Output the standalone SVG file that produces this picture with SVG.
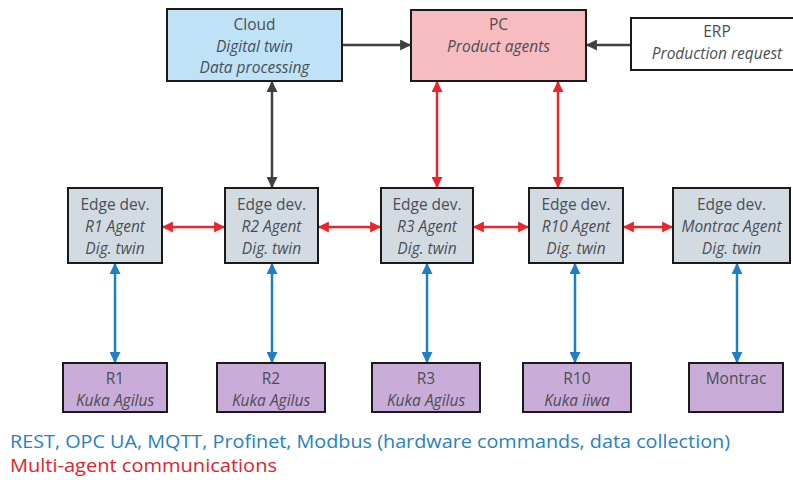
<svg xmlns="http://www.w3.org/2000/svg" width="793" height="480" viewBox="0 0 793 480">
<style>
.box{stroke:#1a1a1a;stroke-width:2}
.cloud{fill:#bfe2f6}.pc{fill:#f7bcc0}.erp{fill:#ffffff}.edge{fill:#d3dbe2}.rob{fill:#c9acd8}
text{font-family:"Open Sans","Liberation Sans",sans-serif;font-size:15.5px;fill:#4a4f55;text-anchor:middle}
.i{font-style:italic}
.k{stroke:#404040;stroke-width:2.5;fill:none}
.r{stroke:#e8262b;stroke-width:2.5;fill:none}
.b{stroke:#1f7fc4;stroke-width:2.5;fill:none}
.leg{font-family:"Open Sans","Liberation Sans",sans-serif;font-size:19px;text-anchor:start}
</style>
<defs>
<marker id="mk" viewBox="0 0 10 10" refX="9" refY="5" markerWidth="4.4" markerHeight="4.4" orient="auto-start-reverse"><path d="M0,0L10,5L0,10z" fill="#404040"/></marker>
<marker id="mr" viewBox="0 0 10 10" refX="9" refY="5" markerWidth="4.4" markerHeight="4.4" orient="auto-start-reverse"><path d="M0,0L10,5L0,10z" fill="#e8262b"/></marker>
<marker id="mb" viewBox="0 0 10 10" refX="9" refY="5" markerWidth="4.4" markerHeight="4.4" orient="auto-start-reverse"><path d="M0,0L10,5L0,10z" fill="#1f7fc4"/></marker>
</defs>
<rect width="793" height="480" fill="#ffffff"/>
<g id="connectors">
<line class="k" x1="342" y1="45" x2="410" y2="45" marker-end="url(#mk)"/>
<line class="k" x1="631" y1="45" x2="587" y2="45" marker-end="url(#mk)"/>
<line class="k" x1="272" y1="82" x2="272" y2="187" marker-start="url(#mk)" marker-end="url(#mk)"/>
<line class="r" x1="437" y1="82" x2="437" y2="187" marker-start="url(#mr)" marker-end="url(#mr)"/>
<line class="r" x1="558" y1="82" x2="558" y2="187" marker-start="url(#mr)" marker-end="url(#mr)"/>
<line class="r" x1="163" y1="227" x2="224" y2="227" marker-start="url(#mr)" marker-end="url(#mr)"/>
<line class="r" x1="319" y1="227" x2="380" y2="227" marker-start="url(#mr)" marker-end="url(#mr)"/>
<line class="r" x1="474" y1="227" x2="528" y2="227" marker-start="url(#mr)" marker-end="url(#mr)"/>
<line class="r" x1="624" y1="227" x2="672" y2="227" marker-start="url(#mr)" marker-end="url(#mr)"/>
<line class="b" x1="115" y1="264" x2="115" y2="362" marker-start="url(#mb)" marker-end="url(#mb)"/>
<line class="b" x1="272" y1="264" x2="272" y2="362" marker-start="url(#mb)" marker-end="url(#mb)"/>
<line class="b" x1="427" y1="264" x2="427" y2="362" marker-start="url(#mb)" marker-end="url(#mb)"/>
<line class="b" x1="575" y1="264" x2="575" y2="362" marker-start="url(#mb)" marker-end="url(#mb)"/>
<line class="b" x1="737" y1="264" x2="737" y2="362" marker-start="url(#mb)" marker-end="url(#mb)"/>
</g>
<g id="cloud"><rect class="box cloud" x="167" y="9" width="175" height="72"/>
<text x="254.5" y="30">Cloud</text><text class="i" x="254.5" y="52">Digital twin</text><text class="i" x="254.5" y="73">Data processing</text></g>
<g id="pc"><rect class="box pc" x="411" y="10" width="175" height="71"/>
<text x="498.5" y="30">PC</text><text class="i" x="498.5" y="52">Product agents</text></g>
<g id="erp"><rect class="box erp" x="631" y="18" width="170" height="52"/>
<text x="717" y="37">ERP</text><text class="i" x="717" y="59">Production request</text></g>
<g id="edge1"><rect class="box edge" x="68" y="188" width="94" height="75"/>
<text x="115" y="210">Edge dev.</text><text class="i" x="115" y="232">R1 Agent</text><text class="i" x="115" y="254">Dig. twin</text></g>
<g id="edge2"><rect class="box edge" x="225" y="188" width="93" height="75"/>
<text x="271.5" y="210">Edge dev.</text><text class="i" x="271.5" y="232">R2 Agent</text><text class="i" x="271.5" y="254">Dig. twin</text></g>
<g id="edge3"><rect class="box edge" x="381" y="188" width="92" height="75"/>
<text x="427" y="210">Edge dev.</text><text class="i" x="427" y="232">R3 Agent</text><text class="i" x="427" y="254">Dig. twin</text></g>
<g id="edge10"><rect class="box edge" x="529" y="188" width="94" height="75"/>
<text x="576" y="210">Edge dev.</text><text class="i" x="576" y="232">R10 Agent</text><text class="i" x="576" y="254">Dig. twin</text></g>
<g id="edgem"><rect class="box edge" x="673" y="188" width="117" height="75"/>
<text x="731.5" y="210">Edge dev.</text><text class="i" x="731.5" y="232">Montrac Agent</text><text class="i" x="731.5" y="254">Dig. twin</text></g>
<g id="r1"><rect class="box rob" x="63" y="363" width="104" height="49"/>
<text x="115" y="384">R1</text><text class="i" x="115" y="406">Kuka Agilus</text></g>
<g id="r2"><rect class="box rob" x="217" y="363" width="108" height="49"/>
<text x="271" y="384">R2</text><text class="i" x="271" y="406">Kuka Agilus</text></g>
<g id="r3"><rect class="box rob" x="372" y="363" width="108" height="49"/>
<text x="426" y="384">R3</text><text class="i" x="426" y="406">Kuka Agilus</text></g>
<g id="r10"><rect class="box rob" x="523" y="363" width="108" height="49"/>
<text x="577" y="384">R10</text><text class="i" x="577" y="406">Kuka iiwa</text></g>
<g id="montrac"><rect class="box rob" x="689" y="363" width="94" height="49"/>
<text x="736" y="384">Montrac</text></g>
<g id="legend">
<text class="leg" x="10" y="448" style="fill:#2a80c2" textLength="720" lengthAdjust="spacingAndGlyphs">REST, OPC UA, MQTT, Profinet, Modbus (hardware commands, data collection)</text>
<text class="leg" x="10" y="472" style="fill:#e0242c" textLength="267" lengthAdjust="spacingAndGlyphs">Multi-agent communications</text>
</g>
</svg>
